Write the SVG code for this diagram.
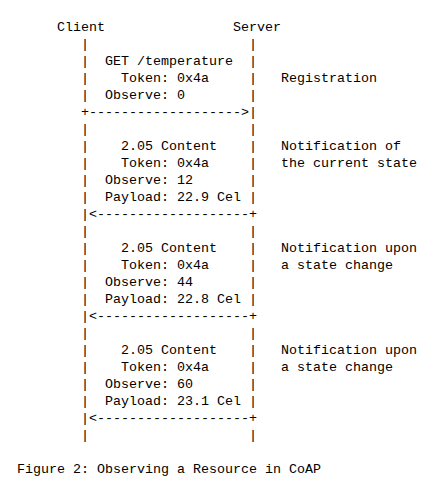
<svg xmlns="http://www.w3.org/2000/svg" width="432" height="490" viewBox="0 0 432 490">
<style>
text{font-family:"Liberation Mono","Courier New",monospace;font-size:13.33px;fill:#000;white-space:pre}
</style>
<rect width="432" height="490" fill="#fff"/>
<g id="client"><text x="57" y="31">Client</text></g>
<g id="server"><text x="233" y="31">Server</text></g>
<g id="connectors" xml:space="preserve">
<text x="81" y="48">|</text><text x="249" y="48">|</text>
<text x="81" y="65">|</text><text x="249" y="65">|</text>
<text x="81" y="82">|</text><text x="249" y="82">|</text>
<text x="81" y="99">|</text><text x="249" y="99">|</text>
<text x="81" y="116">+------------------->|</text>
<text x="81" y="133">|</text><text x="249" y="133">|</text>
<text x="81" y="150">|</text><text x="249" y="150">|</text>
<text x="81" y="167">|</text><text x="249" y="167">|</text>
<text x="81" y="184">|</text><text x="249" y="184">|</text>
<text x="81" y="201">|</text><text x="249" y="201">|</text>
<text x="81" y="218">|&lt;-------------------+</text>
<text x="81" y="235">|</text><text x="249" y="235">|</text>
<text x="81" y="252">|</text><text x="249" y="252">|</text>
<text x="81" y="269">|</text><text x="249" y="269">|</text>
<text x="81" y="286">|</text><text x="249" y="286">|</text>
<text x="81" y="303">|</text><text x="249" y="303">|</text>
<text x="81" y="320">|&lt;-------------------+</text>
<text x="81" y="337">|</text><text x="249" y="337">|</text>
<text x="81" y="354">|</text><text x="249" y="354">|</text>
<text x="81" y="371">|</text><text x="249" y="371">|</text>
<text x="81" y="388">|</text><text x="249" y="388">|</text>
<text x="81" y="405">|</text><text x="249" y="405">|</text>
<text x="81" y="422">|&lt;-------------------+</text>
<text x="81" y="439">|</text><text x="249" y="439">|</text>
</g>
<g id="msg1">
<text x="105" y="65">GET /temperature</text>
<text x="121" y="82">Token: 0x4a</text>
<text x="105" y="99">Observe: 0</text>
<text x="281" y="82">Registration</text>
</g>
<g id="msg2">
<text x="121" y="150">2.05 Content</text>
<text x="121" y="167">Token: 0x4a</text>
<text x="105" y="184">Observe: 12</text>
<text x="105" y="201">Payload: 22.9 Cel</text>
<text x="281" y="150">Notification of</text>
<text x="281" y="167">the current state</text>
</g>
<g id="msg3">
<text x="121" y="252">2.05 Content</text>
<text x="121" y="269">Token: 0x4a</text>
<text x="105" y="286">Observe: 44</text>
<text x="105" y="303">Payload: 22.8 Cel</text>
<text x="281" y="252">Notification upon</text>
<text x="281" y="269">a state change</text>
</g>
<g id="msg4">
<text x="121" y="354">2.05 Content</text>
<text x="121" y="371">Token: 0x4a</text>
<text x="105" y="388">Observe: 60</text>
<text x="105" y="405">Payload: 23.1 Cel</text>
<text x="281" y="354">Notification upon</text>
<text x="281" y="371">a state change</text>
</g>
<g id="caption"><text x="17" y="473">Figure 2: Observing a Resource in CoAP</text></g>
</svg>
